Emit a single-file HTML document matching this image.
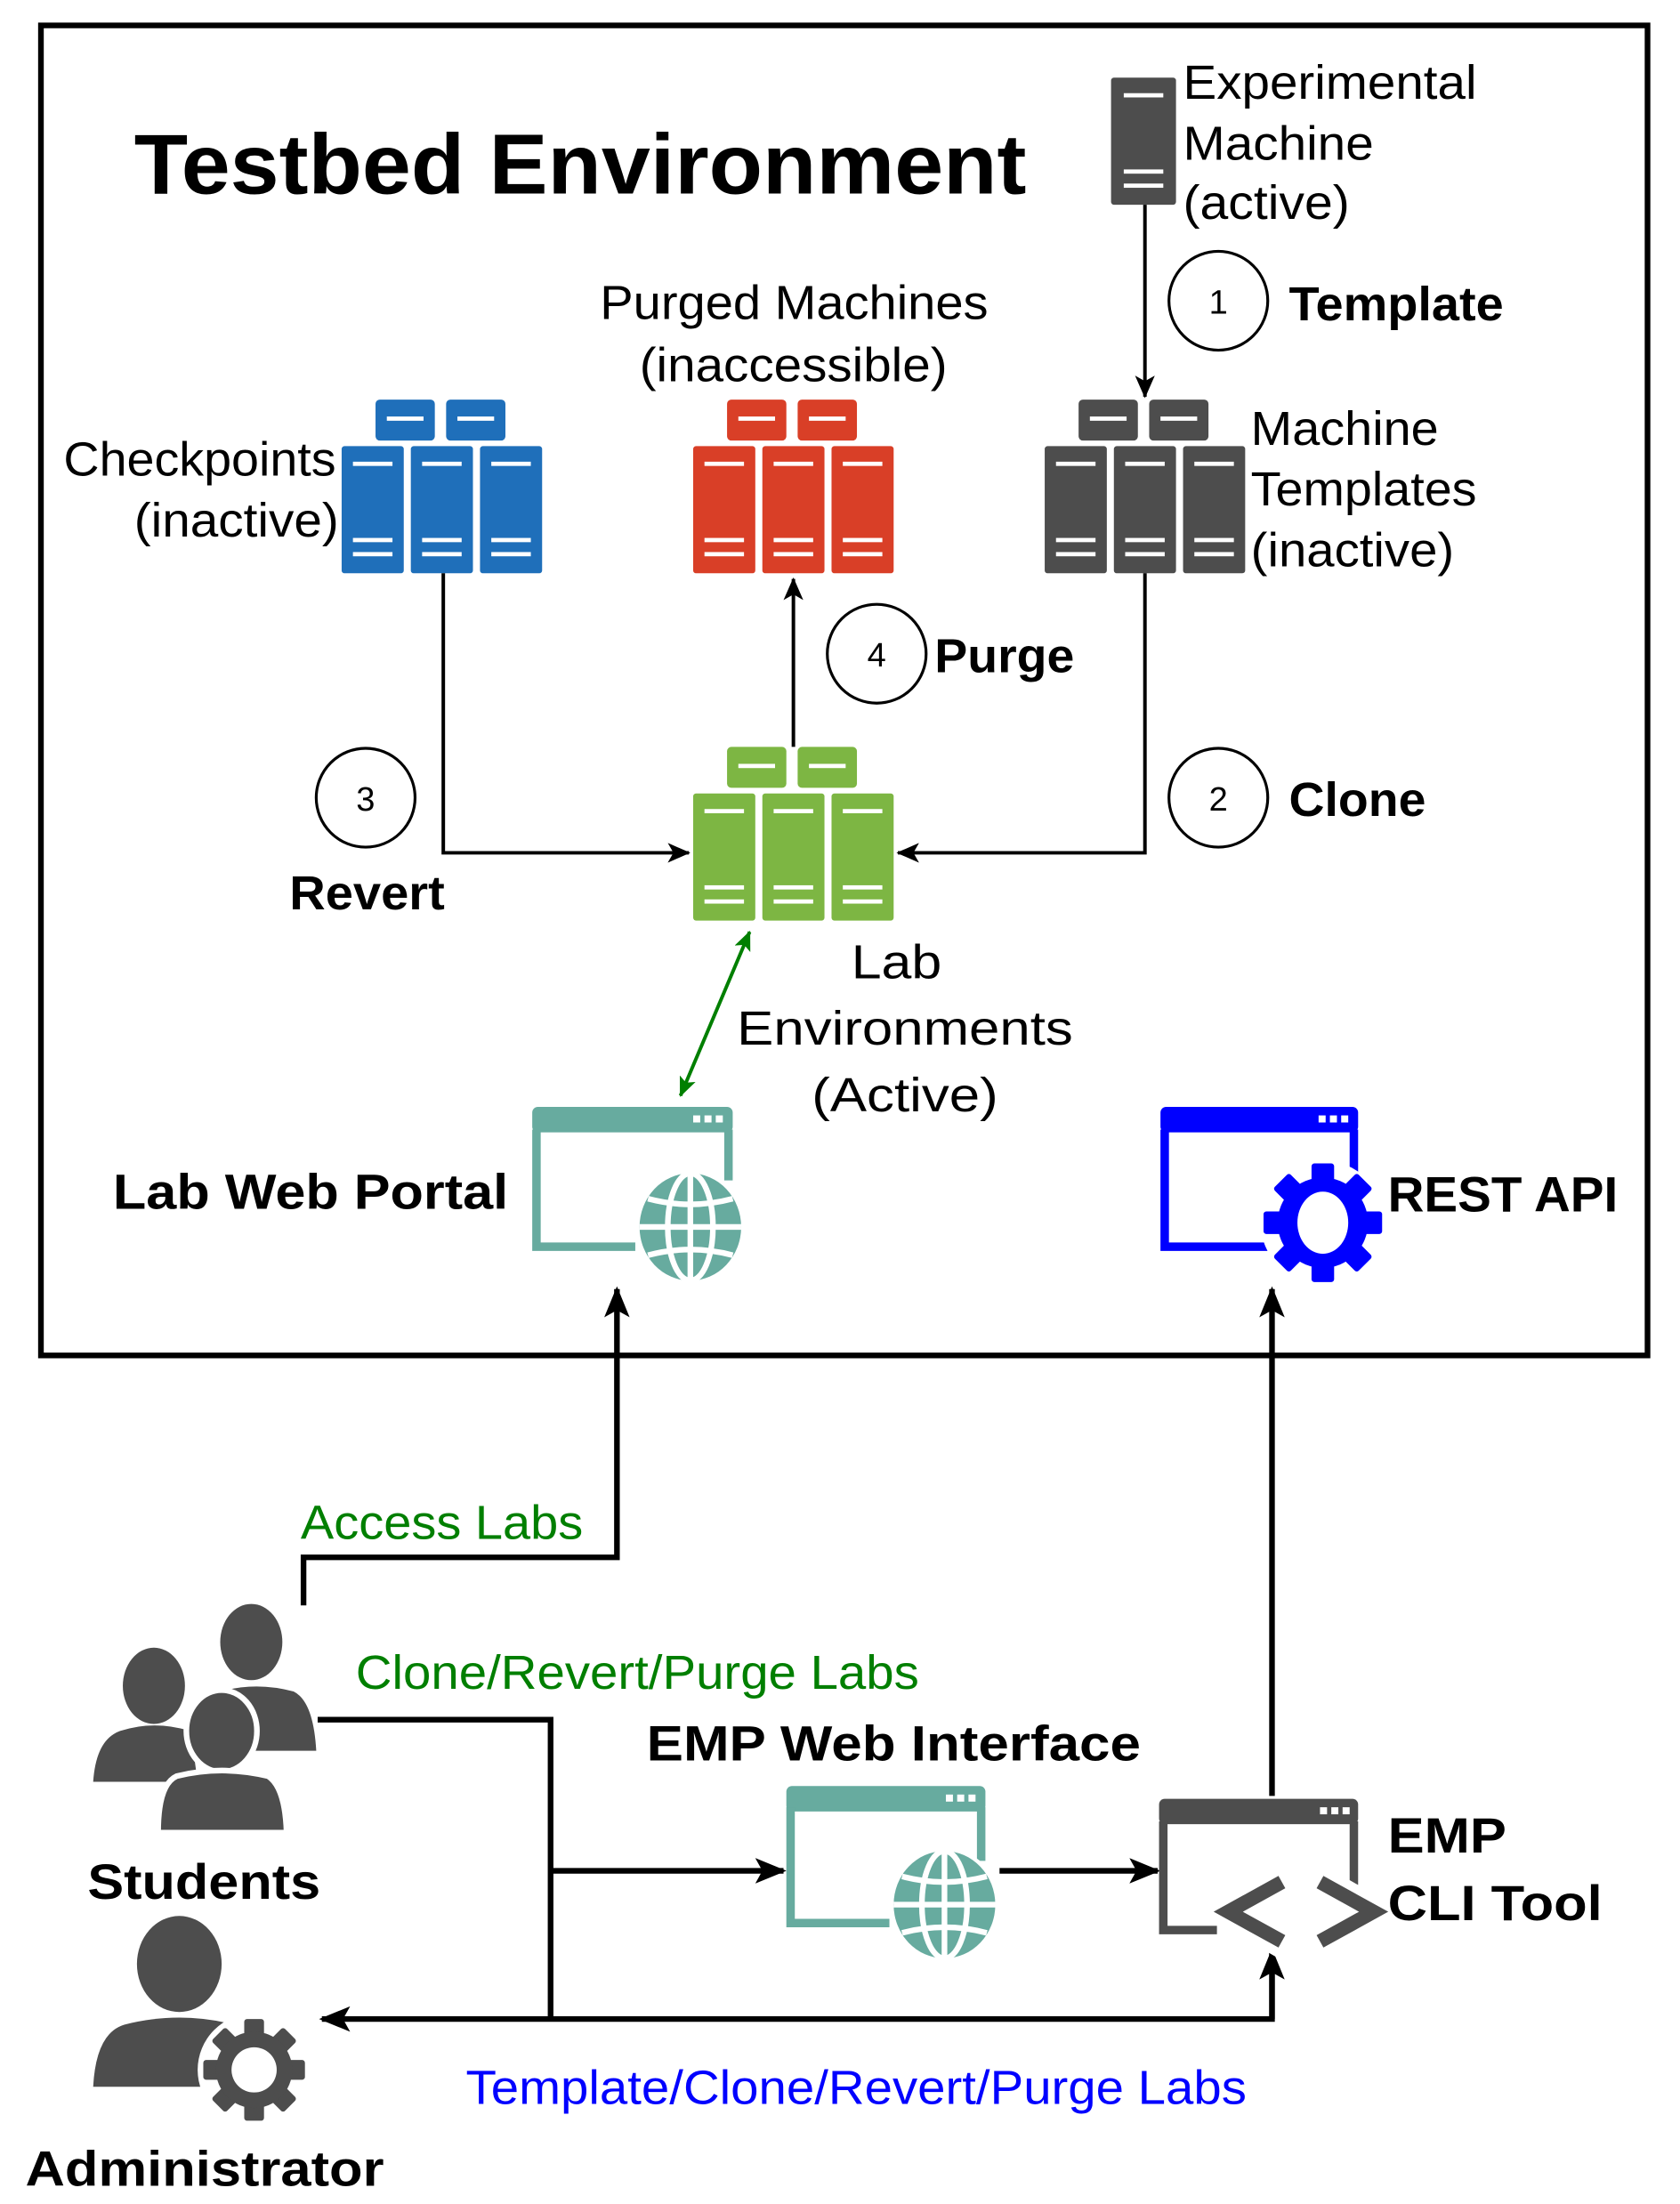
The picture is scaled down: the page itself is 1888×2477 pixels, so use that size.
<!DOCTYPE html>
<html><head><meta charset="utf-8"><style>
html,body{margin:0;padding:0;background:#fff}
svg{display:block}
text{font-family:"Liberation Sans",sans-serif}
</style></head><body>
<svg width="1888" height="2477" viewBox="0 0 1190 1561" preserveAspectRatio="none" xmlns="http://www.w3.org/2000/svg">
<defs>
<g id="cl">
  <rect x="24" y="0" width="42" height="29" rx="3"/>
  <rect x="74" y="0" width="42" height="29" rx="3"/>
  <rect x="0" y="33" width="44" height="90" rx="2"/>
  <rect x="49" y="33" width="44" height="90" rx="2"/>
  <rect x="98" y="33" width="44" height="90" rx="2"/>
  <g fill="#fff">
    <rect x="32" y="12" width="26" height="3"/><rect x="82" y="12" width="26" height="3"/>
    <rect x="8" y="44" width="28" height="3"/><rect x="57" y="44" width="28" height="3"/><rect x="106" y="44" width="28" height="3"/>
    <rect x="8" y="98" width="28" height="3"/><rect x="57" y="98" width="28" height="3"/><rect x="106" y="98" width="28" height="3"/>
    <rect x="8" y="108" width="28" height="3"/><rect x="57" y="108" width="28" height="3"/><rect x="106" y="108" width="28" height="3"/>
  </g>
</g>
<g id="globe">
  <circle cx="0" cy="0" r="40" fill="#fff"/>
  <ellipse cx="0" cy="0" rx="36" ry="38" fill="#67ab9f"/>
  <g stroke="#fff" stroke-width="4" fill="none">
    <ellipse cx="0" cy="0" rx="16" ry="38"/>
    <line x1="0" y1="-38" x2="0" y2="38"/>
    <line x1="-36" y1="0" x2="36" y2="0"/>
    <path d="M-30,-20 Q0,-12 30,-20"/>
    <path d="M-30,20 Q0,12 30,20"/>
  </g>
</g>
<marker id="ah" markerWidth="16" markerHeight="14" refX="15" refY="7" orient="auto" markerUnits="userSpaceOnUse"><path d="M0,0 L16,7 L0,14 L4,7z" fill="#000"/></marker>
<marker id="ah2" markerWidth="22" markerHeight="18" refX="20" refY="9" orient="auto" markerUnits="userSpaceOnUse"><path d="M0,0 L22,9 L0,18 L5,9z" fill="#000"/></marker>
<marker id="ag" markerWidth="14" markerHeight="12" refX="13" refY="6" orient="auto" markerUnits="userSpaceOnUse"><path d="M0,0 L14,6 L0,12 L3,6z" fill="#007f00"/></marker>
<marker id="ags" markerWidth="14" markerHeight="12" refX="1" refY="6" orient="auto" markerUnits="userSpaceOnUse"><path d="M14,0 L0,6 L14,12 L11,6z" fill="#007f00"/></marker>
</defs>

<rect x="29" y="18" width="1138" height="942" fill="none" stroke="#000" stroke-width="4"/>
<text x="95" y="137" font-size="60" font-weight="bold" textLength="632" lengthAdjust="spacingAndGlyphs">Testbed Environment</text>

<!-- experimental machine -->
<rect x="787" y="55" width="46" height="90" rx="2" fill="#4d4d4d"/>
<g fill="#fff"><rect x="796" y="66" width="28" height="3"/><rect x="796" y="120" width="28" height="3"/><rect x="796" y="130" width="28" height="3"/></g>
<g font-size="34" lengthAdjust="spacingAndGlyphs"><text x="838" y="70" textLength="208" lengthAdjust="spacingAndGlyphs">Experimental</text><text x="838" y="113" textLength="135" lengthAdjust="spacingAndGlyphs">Machine</text><text x="838" y="155" textLength="118" lengthAdjust="spacingAndGlyphs">(active)</text></g>
<line x1="811" y1="145" x2="811" y2="281" stroke="#000" stroke-width="2.5" marker-end="url(#ah)"/>
<circle cx="863" cy="213" r="35" fill="#fff" stroke="#000" stroke-width="2"/>
<text x="863" y="222" font-size="24" text-anchor="middle">1</text>
<text x="913" y="227" font-size="34" font-weight="bold" textLength="152" lengthAdjust="spacingAndGlyphs">Template</text>

<text x="425" y="226" font-size="34" textLength="275" lengthAdjust="spacingAndGlyphs">Purged Machines</text>
<text x="453" y="270" font-size="34" textLength="218" lengthAdjust="spacingAndGlyphs">(inaccessible)</text>

<use href="#cl" x="242" y="283" fill="#1f6fba"/>
<use href="#cl" x="491" y="283" fill="#d93f27"/>
<use href="#cl" x="740" y="283" fill="#4d4d4d"/>
<use href="#cl" x="491" y="529" fill="#7db643"/>

<text x="45" y="337" font-size="34" textLength="193" lengthAdjust="spacingAndGlyphs">Checkpoints</text>
<text x="95" y="380" font-size="34" textLength="145" lengthAdjust="spacingAndGlyphs">(inactive)</text>
<text x="886" y="315" font-size="34" textLength="133" lengthAdjust="spacingAndGlyphs">Machine</text>
<text x="886" y="358" font-size="34" textLength="160" lengthAdjust="spacingAndGlyphs">Templates</text>
<text x="886" y="401" font-size="34" textLength="144" lengthAdjust="spacingAndGlyphs">(inactive)</text>

<path d="M314,406 V604 H488" fill="none" stroke="#000" stroke-width="2.5" marker-end="url(#ah)"/>
<path d="M811,406 V604 H636" fill="none" stroke="#000" stroke-width="2.5" marker-end="url(#ah)"/>
<line x1="562" y1="529" x2="562" y2="410" stroke="#000" stroke-width="2.5" marker-end="url(#ah)"/>

<circle cx="621" cy="463" r="35" fill="#fff" stroke="#000" stroke-width="2"/>
<text x="621" y="472" font-size="24" text-anchor="middle">4</text>
<text x="662" y="476" font-size="34" font-weight="bold" textLength="99" lengthAdjust="spacingAndGlyphs">Purge</text>
<circle cx="259" cy="565" r="35" fill="#fff" stroke="#000" stroke-width="2"/>
<text x="259" y="574" font-size="24" text-anchor="middle">3</text>
<text x="205" y="644" font-size="34" font-weight="bold" textLength="110" lengthAdjust="spacingAndGlyphs">Revert</text>
<circle cx="863" cy="565" r="35" fill="#fff" stroke="#000" stroke-width="2"/>
<text x="863" y="574" font-size="24" text-anchor="middle">2</text>
<text x="913" y="578" font-size="34" font-weight="bold" textLength="97" lengthAdjust="spacingAndGlyphs">Clone</text>

<text x="603" y="693" font-size="34" textLength="64" lengthAdjust="spacingAndGlyphs">Lab</text>
<text x="522" y="740" font-size="34" textLength="238" lengthAdjust="spacingAndGlyphs">Environments</text>
<text x="575" y="787" font-size="34" textLength="132" lengthAdjust="spacingAndGlyphs">(Active)</text>

<line x1="531" y1="660" x2="482" y2="776" stroke="#007f00" stroke-width="2.5" marker-start="url(#ags)" marker-end="url(#ag)"/>

<!-- Lab web portal -->
<rect x="377" y="784" width="142" height="18" rx="4" fill="#67ab9f"/>
<path d="M380,800 V883 H450" fill="none" stroke="#67ab9f" stroke-width="6"/>
<path d="M516,800 V836" fill="none" stroke="#67ab9f" stroke-width="6"/>
<g fill="#fff"><rect x="491" y="790" width="5" height="5"/><rect x="499" y="790" width="5" height="5"/><rect x="507" y="790" width="5" height="5"/></g>
<use href="#globe" x="489" y="869"/>
<text x="80" y="856" font-size="35" font-weight="bold" textLength="280" lengthAdjust="spacingAndGlyphs">Lab Web Portal</text>

<!-- REST API -->
<rect x="822" y="784" width="140" height="18" rx="4" fill="#0000ff"/>
<path d="M825,800 V883 H900" fill="none" stroke="#0000ff" stroke-width="6"/>
<path d="M959,800 V836" fill="none" stroke="#0000ff" stroke-width="6"/>
<g fill="#fff"><rect x="934" y="790" width="5" height="5"/><rect x="942" y="790" width="5" height="5"/><rect x="950" y="790" width="5" height="5"/></g>
<g transform="translate(937,866)">
  <circle r="44" fill="#fff"/>
  <g fill="#0000ff">
    <rect x="-8" y="-42" width="16" height="84" rx="2"/>
    <rect x="-8" y="-42" width="16" height="84" rx="2" transform="rotate(45)"/>
    <rect x="-8" y="-42" width="16" height="84" rx="2" transform="rotate(90)"/>
    <rect x="-8" y="-42" width="16" height="84" rx="2" transform="rotate(135)"/>
    <circle r="32"/>
  </g>
  <ellipse rx="18" ry="22" fill="#fff"/>
</g>
<text x="983" y="858" font-size="35" font-weight="bold" textLength="163" lengthAdjust="spacingAndGlyphs">REST API</text>

<!-- lower connectors -->
<path d="M215,1137 V1103 H437 V913" fill="none" stroke="#000" stroke-width="4" marker-end="url(#ah2)"/>
<text x="213" y="1090" font-size="34" fill="#007f00" textLength="200" lengthAdjust="spacingAndGlyphs">Access Labs</text>
<line x1="901" y1="1272" x2="901" y2="913" stroke="#000" stroke-width="4" marker-end="url(#ah2)"/>
<path d="M225,1218 H390 V1430" fill="none" stroke="#000" stroke-width="4"/>
<line x1="390" y1="1325" x2="555" y2="1325" stroke="#000" stroke-width="4" marker-end="url(#ah2)"/>
<line x1="708" y1="1325" x2="820" y2="1325" stroke="#000" stroke-width="4" marker-end="url(#ah2)"/>
<path d="M901,1380 V1430 H228" fill="none" stroke="#000" stroke-width="4" marker-end="url(#ah2)"/>
<path d="M901,1430 V1382" fill="none" stroke="#000" stroke-width="4" marker-end="url(#ah2)"/>
<text x="252" y="1196" font-size="34" fill="#007f00" textLength="399" lengthAdjust="spacingAndGlyphs">Clone/Revert/Purge Labs</text>
<text x="330" y="1490" font-size="34" fill="#0000ff" textLength="553" lengthAdjust="spacingAndGlyphs">Template/Clone/Revert/Purge Labs</text>

<!-- Students -->
<g fill="#4d4d4d">
  <ellipse cx="178" cy="1163" rx="22" ry="27"/>
  <path d="M150,1200 Q178,1190 208,1198 Q222,1205 224,1240 H150 Z"/>
  <ellipse cx="109" cy="1194" rx="22" ry="27"/>
  <path d="M66,1262 Q68,1232 85,1226 Q109,1218 135,1226 L140,1262 Z"/>
  <ellipse cx="157" cy="1226" rx="25" ry="29" stroke="#fff" stroke-width="4"/>
  <path d="M112,1298 Q112,1264 125,1258 Q157,1250 190,1258 Q202,1266 203,1298 Z" stroke="#fff" stroke-width="4"/>
</g>
<text x="62" y="1345" font-size="35" font-weight="bold" textLength="165" lengthAdjust="spacingAndGlyphs">Students</text>

<!-- EMP Web Interface -->
<text x="458" y="1247" font-size="35" font-weight="bold" textLength="350" lengthAdjust="spacingAndGlyphs">EMP Web Interface</text>
<rect x="557" y="1265" width="141" height="18" rx="4" fill="#67ab9f"/>
<path d="M560,1280 V1362 H630" fill="none" stroke="#67ab9f" stroke-width="6"/>
<path d="M695,1280 V1318" fill="none" stroke="#67ab9f" stroke-width="6"/>
<g fill="#fff"><rect x="670" y="1271" width="5" height="5"/><rect x="678" y="1271" width="5" height="5"/><rect x="686" y="1271" width="5" height="5"/></g>
<use href="#globe" x="669" y="1349"/>

<!-- CLI -->
<rect x="821" y="1274" width="141" height="18" rx="4" fill="#4d4d4d"/>
<path d="M824,1290 V1367 H862" fill="none" stroke="#4d4d4d" stroke-width="6"/>
<path d="M959,1290 V1335" fill="none" stroke="#4d4d4d" stroke-width="6"/>
<g fill="#fff"><rect x="935" y="1280" width="5" height="5"/><rect x="943" y="1280" width="5" height="5"/><rect x="951" y="1280" width="5" height="5"/></g>
<path d="M908,1330 L866,1354 L908,1378" fill="none" stroke="#fff" stroke-width="18"/>
<path d="M935,1330 L977,1354 L935,1378" fill="none" stroke="#fff" stroke-width="18"/>
<path d="M908,1333 L870,1354 L908,1375" fill="none" stroke="#4d4d4d" stroke-width="10"/>
<path d="M935,1333 L973,1354 L935,1375" fill="none" stroke="#4d4d4d" stroke-width="10"/>
<text x="983" y="1312" font-size="35" font-weight="bold" textLength="84" lengthAdjust="spacingAndGlyphs">EMP</text>
<text x="983" y="1360" font-size="35" font-weight="bold" textLength="152" lengthAdjust="spacingAndGlyphs">CLI Tool</text>

<!-- Administrator -->
<g fill="#4d4d4d">
  <ellipse cx="127" cy="1391" rx="30" ry="34"/>
  <path d="M66,1478 Q68,1440 88,1434 Q127,1424 166,1434 Q186,1442 188,1478 Z"/>
</g>
<g transform="translate(180,1466)">
  <circle r="40" fill="#fff"/>
  <g fill="#4d4d4d">
    <rect x="-7" y="-36" width="14" height="72" rx="2"/>
    <rect x="-7" y="-36" width="14" height="72" rx="2" transform="rotate(45)"/>
    <rect x="-7" y="-36" width="14" height="72" rx="2" transform="rotate(90)"/>
    <rect x="-7" y="-36" width="14" height="72" rx="2" transform="rotate(135)"/>
    <circle r="27"/>
  </g>
  <circle r="16" fill="#fff"/>
</g>
<text x="18" y="1548" font-size="35" font-weight="bold" textLength="254" lengthAdjust="spacingAndGlyphs">Administrator</text>
</svg>
</body></html>
